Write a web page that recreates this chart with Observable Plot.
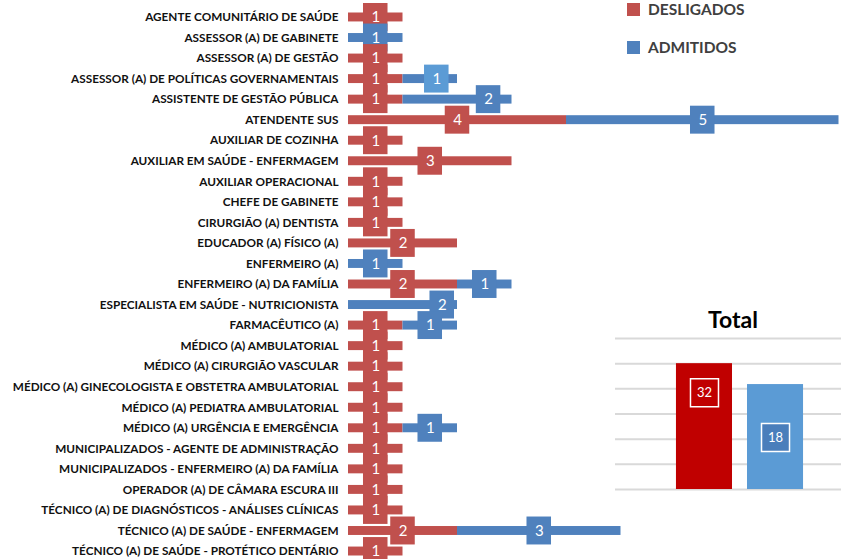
<!DOCTYPE html>
<html><head><meta charset="utf-8">
<script src="https://cdn.jsdelivr.net/npm/d3@7"></script>
<script src="https://cdn.jsdelivr.net/npm/@observablehq/plot@0.6"></script>
<style>
body{margin:0;background:#fff}
#wrap{position:relative;width:841px;height:559px;overflow:hidden;font-family:Lato,"Open Sans",sans-serif}
#main{position:absolute;left:0;top:0}
#total{position:absolute;left:615px;top:300px}
#ttitle{position:absolute;left:615px;top:305px;width:236px;text-align:center;font:bold 23px Lato,sans-serif;color:#000}
.leg{position:absolute;left:627px;font:bold 15.5px Lato,sans-serif;color:#404040;display:flex;align-items:center}
.leg i{display:inline-block;width:13px;height:13px;margin-right:8px}
</style>
</head><body><div id="wrap"></div>
<script>
const categories = [
  "AGENTE COMUNITÁRIO DE SAÚDE",
  "ASSESSOR (A) DE GABINETE",
  "ASSESSOR (A) DE GESTÃO",
  "ASSESSOR (A) DE POLÍTICAS GOVERNAMENTAIS",
  "ASSISTENTE DE GESTÃO PÚBLICA",
  "ATENDENTE SUS",
  "AUXILIAR DE COZINHA",
  "AUXILIAR EM SAÚDE - ENFERMAGEM",
  "AUXILIAR OPERACIONAL",
  "CHEFE DE GABINETE",
  "CIRURGIÃO (A) DENTISTA",
  "EDUCADOR (A) FÍSICO (A)",
  "ENFERMEIRO (A)",
  "ENFERMEIRO (A) DA FAMÍLIA",
  "ESPECIALISTA EM SAÚDE - NUTRICIONISTA",
  "FARMACÊUTICO (A)",
  "MÉDICO (A) AMBULATORIAL",
  "MÉDICO (A) CIRURGIÃO VASCULAR",
  "MÉDICO (A) GINECOLOGISTA E OBSTETRA AMBULATORIAL",
  "MÉDICO (A) PEDIATRA AMBULATORIAL",
  "MÉDICO (A) URGÊNCIA E EMERGÊNCIA",
  "MUNICIPALIZADOS - AGENTE DE ADMINISTRAÇÃO",
  "MUNICIPALIZADOS - ENFERMEIRO (A) DA FAMÍLIA",
  "OPERADOR (A) DE CÂMARA ESCURA III",
  "TÉCNICO (A) DE DIAGNÓSTICOS - ANÁLISES CLÍNICAS",
  "TÉCNICO (A) DE SAÚDE - ENFERMAGEM",
  "TÉCNICO (A) DE SAÚDE - PROTÉTICO DENTÁRIO"
];
const desligados = [1,0,1,1,1,4,1,3,1,1,1,2,0,2,0,1,1,1,1,1,1,1,1,1,1,2,1];
const admitidos  = [0,1,0,1,2,5,0,0,0,0,0,0,1,1,2,1,0,0,0,0,1,0,0,0,0,3,0];
const seriesNames = ["DESLIGADOS", "ADMITIDOS"];
const totalValues = [32, 18];
const totalTicks = [1, 2, 4, 8, 16, 32, 64];

const mainColors = ["#C0504D", "#4F81BD"];
const totalColors = ["#C00000", "#5B9BD5"];
// hand-moved label boxes in the original (style nudges, in bar units)
const labelNudge = {
  "ASSESSOR (A) DE POLÍTICAS GOVERNAMENTAIS": 0.12,
  "ASSISTENTE DE GESTÃO PÚBLICA": 0.57,
  "ESPECIALISTA EM SAÚDE - NUTRICIONISTA": 0.72
};
const highlightBox = {"ASSESSOR (A) DE POLÍTICAS GOVERNAMENTAIS": "#5B9BD5"};

const rows = categories.flatMap((c, i) => [
  {cat: c, series: seriesNames[0], value: desligados[i]},
  {cat: c, series: seriesNames[1], value: admitidos[i]}
]);
const labels = categories.flatMap((c, i) => [
  {cat: c, series: seriesNames[0], value: desligados[i], pos: desligados[i] / 2, color: mainColors[0]},
  {cat: c, series: seriesNames[1], value: admitidos[i], pos: desligados[i] + admitidos[i] / 2 + (labelNudge[c] || 0), color: highlightBox[c] || mainColors[1]}
]).filter(d => d.value > 0);

const wrap = document.getElementById("wrap");
const half = 0.225;

const main = Plot.plot({
  width: 841, height: 559,
  marginLeft: 348, marginRight: 2.5, marginTop: 0, marginBottom: 0,
  style: {fontFamily: "Lato, sans-serif", background: "transparent"},
  x: {domain: [0, 9], axis: null},
  y: {domain: categories, range: [6.7, 561.3], padding: 0, round: false, axis: null, label: null},
  color: {domain: seriesNames, range: mainColors},
  marks: [
    Plot.ruleX([0], {stroke: "#D9D9D9", strokeWidth: 2, dx: -1, y1: categories[0], y2: categories[categories.length - 1], insetTop: -9, insetBottom: -10}),
    Plot.barX(rows, {x: "value", y: "cat", fill: "series", insetTop: 5.8, insetBottom: 5.8}),
    Plot.barX(labels, {x1: d => d.pos - half, x2: d => d.pos + half, y: "cat", fill: d => d.color, insetTop: -3.7, insetBottom: -3.7}),
    Plot.text(labels, {x: "pos", y: "cat", text: d => String(d.value), fill: "white", fontSize: 15}),
    Plot.axisY({tickSize: 0, tickPadding: 10, fontWeight: "bold", fontSize: 11.75, fill: "#111", label: null})
  ]
});
main.id = "main";
wrap.appendChild(main);

const totalsData = seriesNames.map((s, i) => ({series: s, value: totalValues[i]}));
const total = Plot.plot({
  width: 226, height: 200,
  marginLeft: 0, marginRight: 0, marginTop: 0, marginBottom: 0,
  style: {fontFamily: "Lato, sans-serif", background: "transparent"},
  x: {domain: seriesNames, range: [53.5, 195.5], paddingInner: 0.211, paddingOuter: 0.105, round: false, axis: null},
  y: {type: "log", base: 2, domain: [1, 64], range: [189, 38], axis: null},
  color: {domain: seriesNames, range: totalColors},
  marks: [
    Plot.ruleY(totalTicks, {stroke: "#D9D9D9", strokeWidth: 2}),
    Plot.barY(totalsData, {x: "series", y1: () => 1, y2: "value", fill: "series"}),
    Plot.dot(totalsData.slice(0, 1), {x: "series", y: "value", dy: 29, symbol: "square", r: 15.8, fill: "#C00000", stroke: "white", strokeWidth: 1.5}),
    Plot.text(totalsData.slice(0, 1), {x: "series", y: "value", dy: 29, text: d => String(d.value), fill: "white", fontSize: 13}),
    Plot.dot(totalsData.slice(1), {x: "series", y: "value", dy: 53, symbol: "square", r: 15.8, fill: "#4A7EBB", stroke: "white", strokeWidth: 1.5}),
    Plot.text(totalsData.slice(1), {x: "series", y: "value", dy: 53, text: d => String(d.value), fill: "white", fontSize: 13})
  ]
});
total.id = "total";
wrap.appendChild(total);

const title = document.createElement("div");
title.id = "ttitle";
title.textContent = "Total";
wrap.appendChild(title);

seriesNames.forEach((s, i) => {
  const el = document.createElement("div");
  el.className = "leg";
  el.style.top = (i === 0 ? 0 : 38) + "px";
  el.innerHTML = `<i style="background:${mainColors[i]}"></i>${s}`;
  wrap.appendChild(el);
});
</script>
</body></html>
